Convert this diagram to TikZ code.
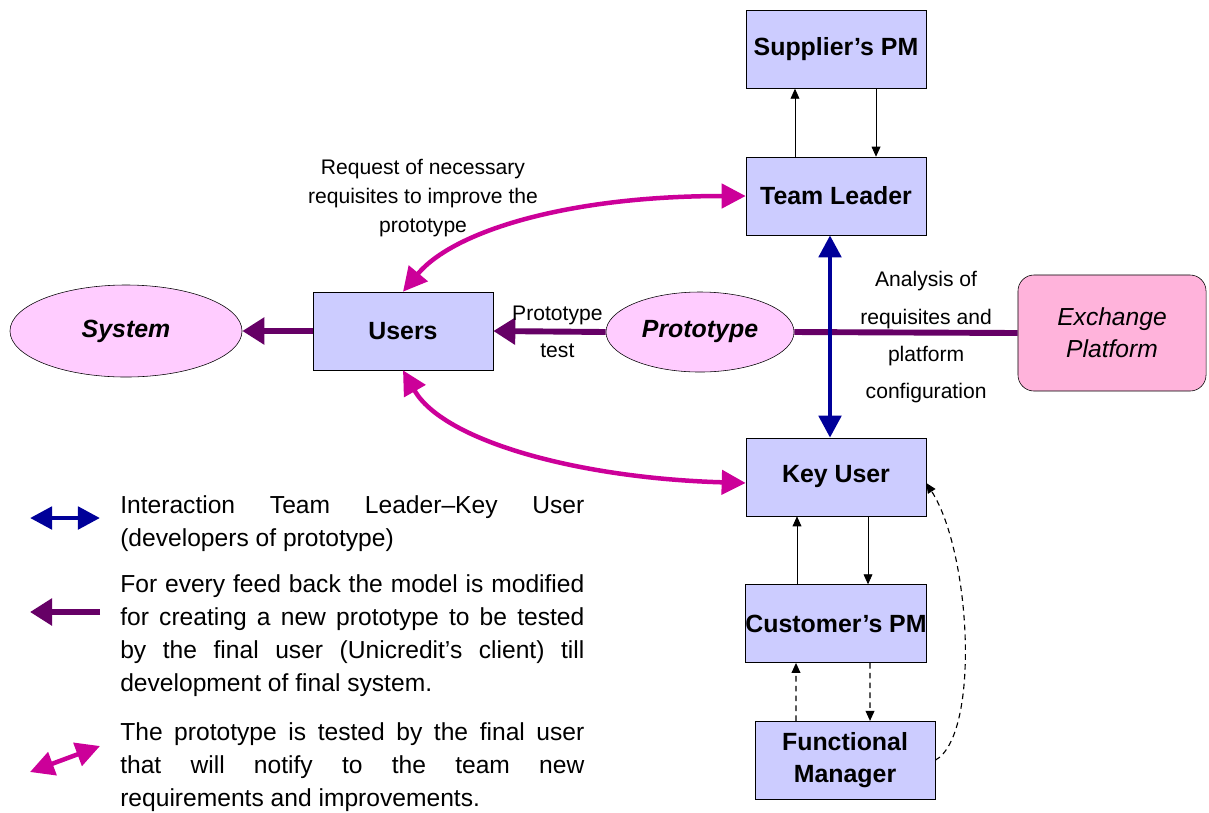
\documentclass[tikz,border=0pt]{standalone}
\usepackage{fontspec}
\setmainfont{Liberation Sans}
\usepackage{tikz}
\usetikzlibrary{arrows.meta, positioning, shapes.geometric, calc}

\definecolor{boxfill}{HTML}{CCCCFF}
\definecolor{ovalfill}{HTML}{FFCCFF}
\definecolor{platfill}{HTML}{FFB3DB}
\definecolor{feedcol}{HTML}{660066}
\definecolor{teamcol}{HTML}{000099}
\definecolor{testcol}{HTML}{CC0099}

\begin{document}
\begin{tikzpicture}[
    x=0.025cm, y=-0.025cm,
    node distance=1.7cm and 1.0cm,
    box/.style={draw, fill=boxfill, minimum width=4.5cm, minimum height=1.95cm, inner sep=0pt, align=center, font=\fontsize{17.7}{23}\selectfont\bfseries},
    oval/.style={draw, ellipse, fill=ovalfill, inner sep=0pt, font=\fontsize{17.7}{21}\selectfont\bfseries\itshape},
    plat/.style={draw, fill=platfill, rounded corners=0.4cm, minimum width=4.7cm, minimum height=2.9cm, align=center, font=\fontsize{17.5}{23}\selectfont\itshape},
    lbl/.style={align=center, inner sep=0pt, font=\fontsize{15}{26.5}\selectfont},
    legend/.style={anchor=base west, text width=11.6cm, align=justify, inner sep=0pt, font=\fontsize{17.5}{23.7}\selectfont},
    link/.style={-{Triangle[length=0.25cm, width=0.22cm]}, line width=0.6pt},
    dlink/.style={link, line width=0.8pt, dash pattern=on 4pt off 3pt},
    feed/.style={draw=feedcol, line width=4.2pt, -{Triangle[length=0.55cm, width=0.65cm]}},
    team/.style={draw=teamcol, line width=3.5pt, {Triangle[length=0.55cm, width=0.55cm]}-{Triangle[length=0.55cm, width=0.55cm]}},
    test/.style={draw=testcol, line width=3.2pt, {Triangle[length=0.6cm, width=0.6cm]}-{Triangle[length=0.6cm, width=0.6cm]}},
    >=Stealth
]
    \useasboundingbox (0,0) rectangle (1209,812);

    % project side
    \node[box] (tl) at (836,196) {Team Leader};
    \node[box, above=1.7cm of tl] (spm) {Supplier's PM};
    \node[box] (ku) at (836,477) {Key User};
    \node[box, below=1.7cm of ku] (cpm) {Customer's PM};
    \node[box, below=1.45cm of cpm, xshift=0.225cm] (fm) {Functional\\Manager};

    % users side
    \node[box] (users) at (403,331) {Users};
    \node[oval, minimum width=5.8cm, minimum height=2.3cm] (sys) at (126,331) {System};
    \node[oval, minimum width=4.7cm, minimum height=2cm] (proto) at (700,332) {Prototype};
    \node[plat] (ex) at (1112,333) {Exchange\\Platform};

    \draw[link] ([xshift=-1.025cm]tl.north) -- ([xshift=-1.025cm]spm.south);
    \draw[link] ([xshift=1cm]spm.south) -- ([xshift=1cm]tl.north);
    \draw[link] ([xshift=-0.975cm]cpm.north) -- ([xshift=-0.975cm]ku.south);
    \draw[link] ([xshift=0.8cm]ku.south) -- ([xshift=0.8cm]cpm.north);
    \draw[dlink] ([xshift=-1.225cm]fm.north) -- ([xshift=-1cm]cpm.south);
    \draw[dlink] ([xshift=0.85cm]cpm.south) -- ([xshift=0.625cm]fm.north);
    \draw[dlink] (fm.east) .. controls +(45,-25) and +(45,70) .. ([yshift=-0.15cm]ku.east);

    % prototype feed back
    \draw[feed, -] (ex.west) -- node[lbl, pos=0.41, yshift=-0.12cm] {Analysis of\\requisites and\\platform\\configuration} (proto.east);
    \draw[feed] (proto.west) -- node[lbl, pos=0.43] {Prototype\\test} (users.east);
    \draw[feed] (users.west) -- (sys.east);

    \draw[team] ([xshift=-0.15cm]tl.south) -- ([xshift=-0.15cm]ku.north);

    \draw[test] (users.north) .. controls +(50,-60) and +(-180,0) .. (tl.west);
    \draw[test] (users.south) .. controls +(40,70) and +(-170,-5) .. ([yshift=-0.15cm]ku.west);
    \node[lbl, font=\fontsize{15}{20.6}\selectfont] (req) at (423,198) {Request of necessary\\requisites to improve the\\prototype};

    % legend
    \coordinate (k1a) at (30,518);  \coordinate (k1b) at (100,518);
    \coordinate (k2a) at (100,612); \coordinate (k2b) at (30,612);
    \coordinate (k3a) at (30,772);  \coordinate (k3b) at (100,746);
    \draw[team] (k1a) -- (k1b);
    \draw[feed] (k2a) -- (k2b);
    \draw[test] (k3a) -- (k3b);
    \node[legend] (leg1) at (120,513) {\tolerance=10000 Interaction Team Leader--Key User\linebreak (developers of prototype)};
    \node[legend] (leg2) at (120,592) {\tolerance=10000 For every feed back the model is modified\linebreak for creating a new prototype to be tested\linebreak by the final user (Unicredit's client) till\linebreak development of final system.};
    \node[legend] (leg3) at (120,740) {\tolerance=10000 The prototype is tested by the final user\linebreak that will notify to the team new\linebreak requirements and improvements.};
\end{tikzpicture}
\end{document}
